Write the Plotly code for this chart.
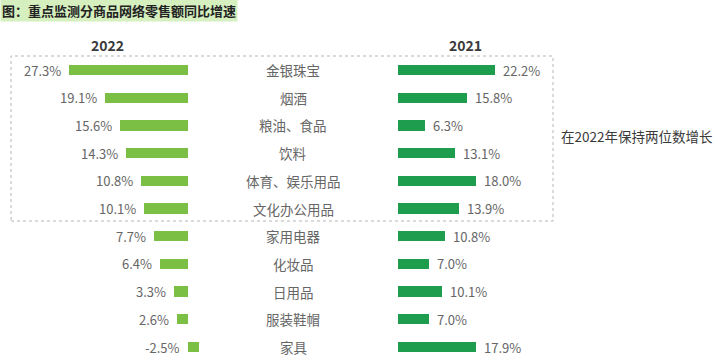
import plotly.graph_objects as go

categories = ["金银珠宝", "烟酒", "粮油、食品", "饮料", "体育、娱乐用品", "文化办公用品",
              "家用电器", "化妆品", "日用品", "服装鞋帽", "家具"]
values_2022 = [27.3, 19.1, 15.6, 14.3, 10.8, 10.1, 7.7, 6.4, 3.3, 2.6, -2.5]
values_2021 = [22.2, 15.8, 6.3, 13.1, 18.0, 13.9, 10.8, 7.0, 10.1, 7.0, 17.9]
title_text = "图：重点监测分商品网络零售额同比增速"
note_text = "在2022年保持两位数增长"

W, H = 720, 359
idx = list(range(len(categories)))
FONT = "Noto Sans CJK SC"

fig = go.Figure()
fig.add_trace(go.Bar(x=values_2022, y=idx, orientation="h", width=0.37,
                     marker=dict(color="#7BBF45", line=dict(width=0)),
                     xaxis="x", yaxis="y", hoverinfo="skip"))
fig.add_trace(go.Bar(x=values_2021, y=idx, orientation="h", width=0.37,
                     marker=dict(color="#1F9D4E", line=dict(width=0)),
                     xaxis="x2", yaxis="y", hoverinfo="skip"))

scale = 4.36  # px per %
left_zero = 188
left_dom_end = 215
right_zero = 398

annotations = []
for i, (c, a, b) in enumerate(zip(categories, values_2022, values_2021)):
    annotations.append(dict(x=293 / W, y=i, xref="paper", yref="y", text=c, showarrow=False,
                            xanchor="center", yanchor="middle",
                            font=dict(family=FONT, size=13.5, color="#666666")))
    annotations.append(dict(x=max(a, 0), y=i, xref="x", yref="y", text=f"{a:.1f}%",
                            showarrow=False, xanchor="right", yanchor="middle", xshift=-6,
                            font=dict(family=FONT, size=13, color="#666666")))
    annotations.append(dict(x=b, y=i, xref="x2", yref="y", text=f"{b:.1f}%",
                            showarrow=False, xanchor="left", yanchor="middle", xshift=6,
                            font=dict(family=FONT, size=13, color="#666666")))

annotations += [
    dict(x=107 / W, y=1 - 45 / H, xref="paper", yref="paper", text="<b>2022</b>", showarrow=False,
         xanchor="center", yanchor="middle", font=dict(family=FONT, size=14, color="#3a3a3a")),
    dict(x=465 / W, y=1 - 45 / H, xref="paper", yref="paper", text="<b>2021</b>", showarrow=False,
         xanchor="center", yanchor="middle", font=dict(family=FONT, size=14, color="#3a3a3a")),
    dict(x=559 / W, y=1 - 136 / H, xref="paper", yref="paper", text=note_text, showarrow=False,
         xanchor="left", yanchor="middle", font=dict(family=FONT, size=13.5, color="#3a3a3a")),
    dict(x=0, y=1 - 11 / H, xref="paper", yref="paper", text="<b>" + title_text + "</b>",
         showarrow=False, xanchor="left", yanchor="middle", bgcolor="#d5efbf", borderpad=1,
         font=dict(family=FONT, size=13, color="#222222")),
]

shapes = [dict(type="rect", xref="paper", yref="paper", x0=11 / W, x1=553 / W,
               y0=1 - 221 / H, y1=1 - 56 / H, line=dict(color="#b5b5b5", width=1, dash="dot"),
               fillcolor="rgba(0,0,0,0)")]

row0_px, step = 70, 27.7
fig.update_layout(
    width=W, height=H, margin=dict(l=0, r=0, t=0, b=0),
    paper_bgcolor="white", plot_bgcolor="rgba(0,0,0,0)", showlegend=False,
    bargap=0,
    xaxis=dict(domain=[0, left_dom_end / W],
               range=[left_zero / scale, -(left_dom_end - left_zero) / scale],
               visible=False, fixedrange=True),
    xaxis2=dict(domain=[right_zero / W, 1], range=[0, (W - right_zero) / scale],
                visible=False, fixedrange=True),
    yaxis=dict(domain=[0, 1], range=[(H - row0_px) / step, -row0_px / step],
               visible=False, fixedrange=True),
    annotations=annotations, shapes=shapes,
)

fig.write_html("out.html", config={"displayModeBar": False},
               post_script="document.body.style.margin='0';document.body.style.overflow='hidden';")
